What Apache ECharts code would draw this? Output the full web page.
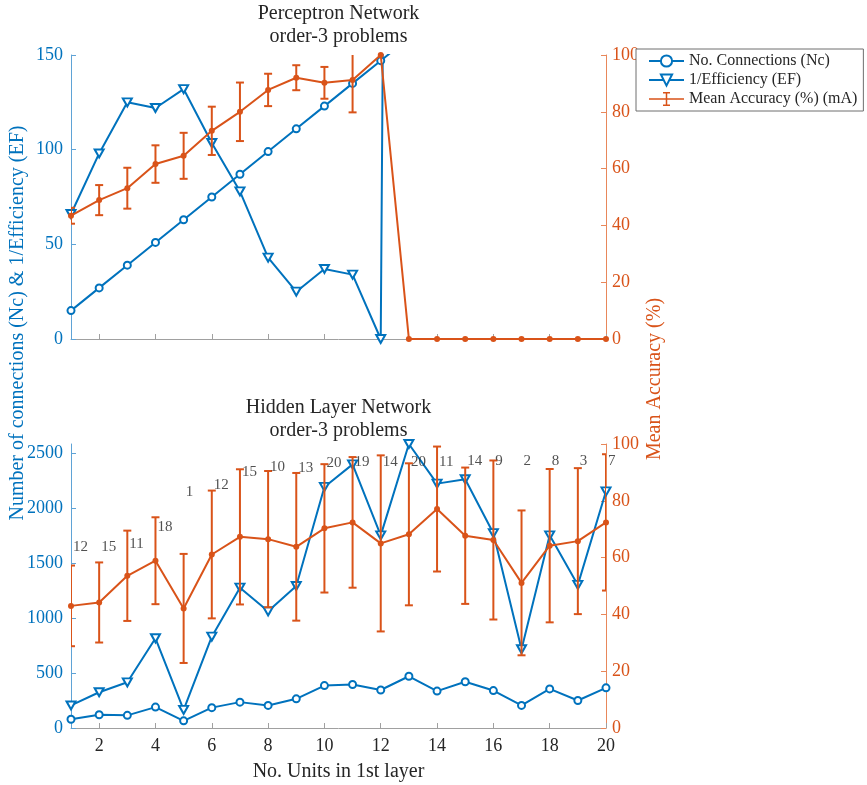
<!DOCTYPE html>
<html>
<head>
<meta charset="utf-8">
<script src="https://cdn.jsdelivr.net/npm/echarts@6/dist/echarts.min.js"></script>
<style>
  html, body { margin: 0; padding: 0; background: #fff; }
  #chart { width: 867px; height: 785px; }
</style>
</head>
<body>
<div id="chart"></div>
<script>
// Number of units in the first layer
const units = [1, 2, 3, 4, 5, 6, 7, 8, 9, 10, 11, 12, 13, 14, 15, 16, 17, 18, 19, 20];
const evenTicks = [2, 4, 6, 8, 10, 12, 14, 16, 18, 20];

// Perceptron network, order-3 problems
const percConnections = [15, 27, 39, 51, 63, 75, 87, 99, 111, 123, 135, 147, 159];
const percInvEfficiency = [66, 98, 125, 122, 132, 103.5, 78, 43, 25, 37, 34, 0, 2100];
const percAccuracy = [43.4, 48.9, 53.1, 61.6, 64.5, 73.3, 80, 87.7, 92, 90.2, 91.2, 100, 0, 0, 0, 0, 0, 0, 0, 0];
const percAccuracyStd = [2.8, 5.3, 7.2, 6.6, 8.1, 8.5, 10.3, 5.7, 4.4, 5.6, 11.4, null, null, null, null, null, null, null, null, null];

// Hidden layer network, order-3 problems
const hidConnections = [80, 120, 115, 190, 65, 185, 235, 205, 265, 385, 395, 345, 470, 335, 420, 340, 205, 355, 250, 365];
const hidInvEfficiency = [205, 325, 415, 815, 165, 830, 1275, 1060, 1290, 2190, 2395, 1750, 2580, 2220, 2260, 1770, 715, 1750, 1300, 2150];
const hidAccuracy = [43, 44.2, 53.6, 58.9, 42.1, 61.1, 67.3, 66.5, 63.8, 70.3, 72.4, 65, 68.2, 77.1, 67.7, 66.2, 51.1, 64.2, 65.8, 72.4];
const hidAccuracyStd = [14.2, 14.1, 15.9, 15.3, 19.2, 22.5, 23.8, 24, 26, 22.6, 23, 31, 25, 22, 24, 28, 25.5, 27, 25.7, 24];
// Problem counts printed above each unit count, and the height (accuracy scale) they sit at
const hidCounts = [12, 15, 11, 18, 1, 12, 15, 10, 13, 20, 19, 14, 20, 11, 14, 9, 2, 8, 3, 7];
const hidCountLevel = [63.7, 63.7, 64.8, 70.7, 83.1, 85.6, 90.1, 91.9, 91.5, 93.3, 93.7, 93.7, 93.5, 93.7, 93.9, 94.1, 93.9, 93.9, 94.1, 94.1];

const leftTicksTop = [0, 50, 100, 150];
const leftTicksBottom = [0, 500, 1000, 1500, 2000, 2500];

const BLUE = '#0072BD';
const ORANGE = '#D95319';
const TEXT = '#262626';
const FONT = "'Liberation Serif', 'DejaVu Serif', serif";

const NAME_NC = 'No. Connections (Nc)';
const NAME_EF = '1/Efficiency (EF)';
const NAME_MA = 'Mean Accuracy (%) (mA)';

function pairs(ys) {
  return ys.map((y, i) => [units[i], y]);
}
function errorData(means, stds) {
  const out = [];
  means.forEach((m, i) => {
    if (stds[i] != null) out.push([units[i], m - stds[i], m + stds[i]]);
  });
  return out;
}

function renderErrorBar(params, api) {
  const x = api.value(0);
  const lo = api.coord([x, api.value(1)]);
  const hi = api.coord([x, api.value(2)]);
  const cap = 4;
  const style = { stroke: ORANGE, lineWidth: 2, fill: null };
  return {
    type: 'group',
    children: [
      { type: 'line', shape: { x1: hi[0], y1: hi[1], x2: lo[0], y2: lo[1] }, style },
      { type: 'line', shape: { x1: hi[0] - cap, y1: hi[1], x2: hi[0] + cap, y2: hi[1] }, style },
      { type: 'line', shape: { x1: lo[0] - cap, y1: lo[1], x2: lo[0] + cap, y2: lo[1] }, style }
    ]
  };
}

const plainNumber = (v) => String(v);

function xAxisDef(gridIndex, withLabels) {
  return {
    type: 'value', gridIndex, min: 1, max: 20,
    axisLine: { show: true, onZero: false, lineStyle: { color: '#a0a0a0', width: 1 } },
    axisTick: { show: true, inside: true, length: 5, customValues: evenTicks, lineStyle: { color: '#a0a0a0' } },
    axisLabel: withLabels
      ? { show: true, customValues: evenTicks, formatter: plainNumber, color: TEXT, fontSize: 18, fontFamily: FONT, margin: 9 }
      : { show: false },
    splitLine: { show: false },
    name: withLabels ? 'No. Units in 1st layer' : '',
    nameLocation: 'middle',
    nameGap: 34,
    nameTextStyle: { color: TEXT, fontSize: 20, fontFamily: FONT }
  };
}

function leftAxisDef(gridIndex, max, ticks) {
  return {
    type: 'value', gridIndex, position: 'left', min: 0, max,
    axisLine: { show: true, onZero: false, lineStyle: { color: '#5fa3d6', width: 1 } },
    axisTick: { show: true, inside: true, length: 5, customValues: ticks, lineStyle: { color: '#5fa3d6' } },
    axisLabel: { customValues: ticks, formatter: plainNumber, color: BLUE, fontSize: 18, fontFamily: FONT, margin: 8 },
    splitLine: { show: false }
  };
}

function rightAxisDef(gridIndex) {
  return {
    type: 'value', gridIndex, position: 'right', min: 0, max: 100, interval: 20,
    axisLine: { show: true, onZero: false, lineStyle: { color: '#e8875a', width: 1 } },
    axisTick: { show: true, inside: true, length: 5, lineStyle: { color: '#e8875a' } },
    axisLabel: { formatter: plainNumber, color: ORANGE, fontSize: 18, fontFamily: FONT, margin: 6 },
    splitLine: { show: false }
  };
}

function blueLine(name, data, xi, yi, isTriangle) {
  return {
    name, type: 'line', xAxisIndex: xi, yAxisIndex: yi, data,
    clip: true, z: 2,
    symbol: isTriangle ? 'emptyTriangle' : 'emptyCircle',
    symbolRotate: isTriangle ? 180 : 0,
    symbolSize: isTriangle ? [9, 8] : 7,
    itemStyle: { color: BLUE, borderWidth: 1.5 },
    lineStyle: { color: BLUE, width: 2 },
    emphasis: { disabled: true },
    animation: false
  };
}

function orangeLine(data, xi, yi) {
  return {
    name: NAME_MA, type: 'line', xAxisIndex: xi, yAxisIndex: yi, data,
    clip: true, z: 4,
    symbol: 'circle', symbolSize: 6,
    itemStyle: { color: ORANGE },
    lineStyle: { color: ORANGE, width: 2 },
    emphasis: { disabled: true },
    animation: false
  };
}

function errorSeries(data, xi, yi) {
  return {
    type: 'custom', xAxisIndex: xi, yAxisIndex: yi, data,
    renderItem: renderErrorBar, clip: true, z: 3, silent: true, animation: false,
    encode: { x: 0, y: [1, 2] }
  };
}

function centeredText(text, x, y, color, size, rotation) {
  return {
    type: 'text', x, y, rotation: rotation || 0, silent: true,
    style: { text, fill: color, font: size + 'px ' + FONT, align: 'center', verticalAlign: 'middle' }
  };
}

const chart = echarts.init(document.getElementById('chart'), null, { renderer: 'canvas' });

chart.setOption({
  animation: false,
  backgroundColor: '#ffffff',
  textStyle: { fontFamily: FONT },
  grid: [
    { left: 71, top: 55, width: 535, height: 284, containLabel: false },
    { left: 71, top: 444, width: 535, height: 284, containLabel: false }
  ],
  xAxis: [xAxisDef(0, false), xAxisDef(1, true)],
  yAxis: [
    leftAxisDef(0, 150, leftTicksTop),
    rightAxisDef(0),
    leftAxisDef(1, 2580, leftTicksBottom),
    rightAxisDef(1)
  ],
  legend: {
    orient: 'vertical',
    left: 636, top: 49,
    padding: [4, 6, 4, 12],
    itemGap: 3,
    itemWidth: 35, itemHeight: 14,
    backgroundColor: '#ffffff',
    borderColor: '#6e6e6e', borderWidth: 1, borderRadius: 0,
    textStyle: { color: TEXT, fontSize: 16, fontFamily: FONT, lineHeight: 16 },
    selectedMode: false,
    data: [
      { name: NAME_NC },
      { name: NAME_EF },
      { name: NAME_MA, icon: 'path://M0,6.25H35V7.75H0Z M16.75,0H18.25V14H16.75Z M14,0H21V1.5H14Z M14,12.5H21V14H14Z' }
    ]
  },
  graphic: [
    centeredText('Perceptron Network', 338.5, 14, TEXT, 20),
    centeredText('order-3 problems', 338.5, 37, TEXT, 20),
    centeredText('Hidden Layer Network', 338.5, 408, TEXT, 20),
    centeredText('order-3 problems', 338.5, 431, TEXT, 20),
    centeredText('Number of connections (Nc) & 1/Efficiency (EF)', 18, 323, BLUE, 20, Math.PI / 2),
    centeredText('Mean Accuracy (%)', 655, 379, ORANGE, 20, Math.PI / 2)
  ],
  series: [
    // Perceptron network
    blueLine(NAME_NC, pairs(percConnections), 0, 0, false),
    blueLine(NAME_EF, pairs(percInvEfficiency), 0, 0, true),
    errorSeries(errorData(percAccuracy, percAccuracyStd), 0, 1),
    orangeLine(pairs(percAccuracy), 0, 1),
    // Hidden layer network
    blueLine(NAME_NC, pairs(hidConnections), 1, 2, false),
    blueLine(NAME_EF, pairs(hidInvEfficiency), 1, 2, true),
    errorSeries(errorData(hidAccuracy, hidAccuracyStd), 1, 3),
    orangeLine(pairs(hidAccuracy), 1, 3),
    {
      type: 'scatter', xAxisIndex: 1, yAxisIndex: 3,
      data: pairs(hidCountLevel),
      symbolSize: 0, silent: true, z: 5, clip: false,
      label: {
        show: true, position: 'right', distance: 2,
        formatter: (p) => String(hidCounts[p.dataIndex]),
        color: TEXT, fontSize: 15, fontFamily: FONT
      },
      animation: false
    }
  ]
});
</script>
</body>
</html>
